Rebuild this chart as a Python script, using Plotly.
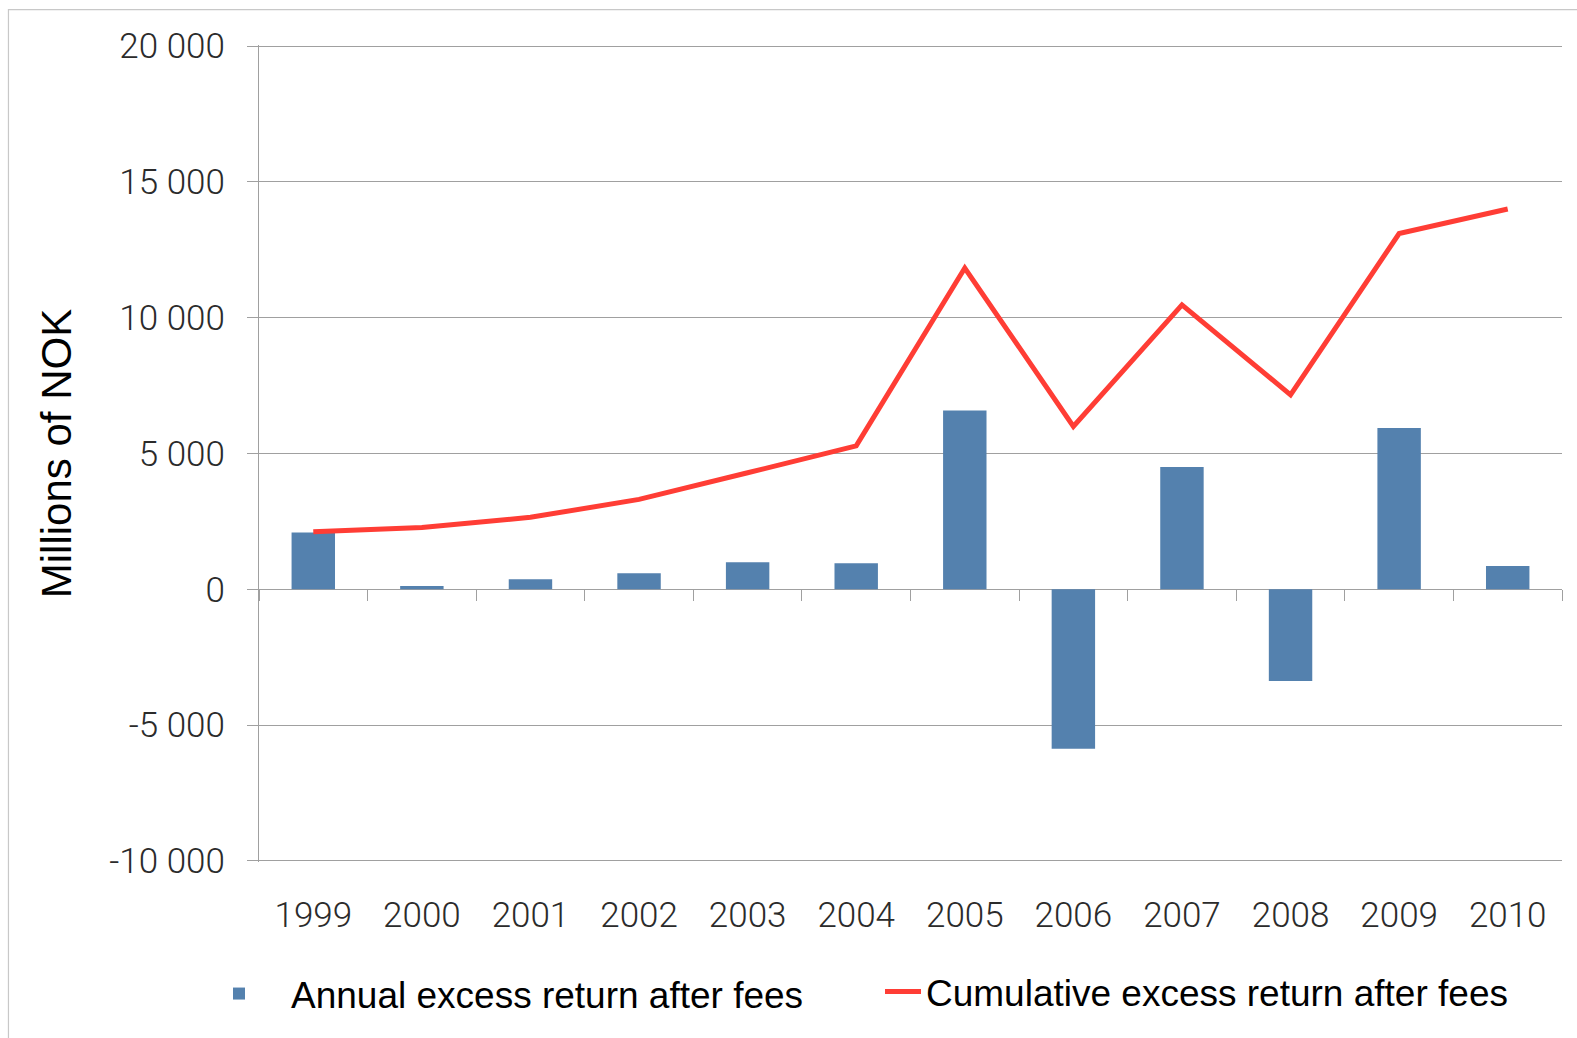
import plotly.graph_objects as go

# ---- data ----
years = ["1999", "2000", "2001", "2002", "2003", "2004",
         "2005", "2006", "2007", "2008", "2009", "2010"]
annual = [2090, 120, 370, 590, 1000, 960, 6580, -5870, 4500, -3380, 5940, 860]
cumulative = [2120, 2280, 2650, 3310, 4290, 5280, 11830, 6000, 10470, 7160, 13100, 14000]

y_tickvals = [-10000, -5000, 0, 5000, 10000, 15000, 20000]
y_ticktext = ["-10 000", "-5 000", "0", "5 000", "10 000", "15 000", "20 000"]

# ---- styles ----
W, H = 1577, 1038
Y_LO, Y_HI, PAD_V = -10000, 20000, 40
L, R = 258.7, 14.5
T0, B0 = 46.5, 177.3                 # pixel rows of 20 000 and -10 000
px_per_unit = (H - T0 - B0) / (Y_HI - Y_LO)
T = T0 - PAD_V * px_per_unit
B = B0 - PAD_V * px_per_unit
GRID = "#a0a0a0"
BAR = "#5481ae"
RED = "#ff3d35"
tickfont = dict(family="Roboto", size=35, color="#2b2b2b", weight=300)
legfont = dict(family="Liberation Sans", size=37, color="#000000")

fig = go.Figure()
fig.add_trace(go.Bar(
    x=years, y=annual, name="Annual excess return after fees",
    marker=dict(color=BAR, line=dict(width=0)), width=0.4,
    xaxis="x", yaxis="y", legend="legend",
))
fig.add_trace(go.Scatter(
    x=years, y=cumulative, name="Cumulative excess return after fees",
    mode="lines", line=dict(color=RED, width=5),
    xaxis="x2", yaxis="y", legend="legend2",
))

plot_h = H - T - B
zero_frac = (0 - (Y_LO - PAD_V)) / ((Y_HI + PAD_V) - (Y_LO - PAD_V))
fig.update_layout(
    width=W, height=H,
    margin=dict(l=L, r=R, t=T, b=B, pad=0),
    paper_bgcolor="white", plot_bgcolor="white",
    showlegend=True,
    # axis carrying the bars: sits on the zero line, ticks between categories
    xaxis=dict(
        type="category", categoryorder="array", categoryarray=years,
        range=[-0.5, 11.5], anchor="free", position=zero_frac,
        ticks="outside", tickson="boundaries", ticklen=11, tickwidth=1.2,
        tickcolor=GRID, showticklabels=False,
        showgrid=False, zeroline=False, showline=False,
    ),
    # axis carrying the line: year labels along the bottom
    xaxis2=dict(
        type="category", categoryorder="array", categoryarray=years,
        range=[-0.5, 11.5], overlaying="x", anchor="y", side="bottom",
        ticks="", showgrid=False, zeroline=False, showline=False,
        tickfont=tickfont, ticklabelstandoff=29,
    ),
    yaxis=dict(
        range=[Y_LO - PAD_V, Y_HI + PAD_V], tickmode="array",
        tickvals=y_tickvals, ticktext=y_ticktext,
        showgrid=True, gridcolor=GRID, gridwidth=1.2,
        ticks="outside", ticklen=11, tickwidth=1.2, tickcolor=GRID,
        showline=True, linecolor=GRID, linewidth=1.2,
        zeroline=True, zerolinecolor=GRID, zerolinewidth=1.4,
        tickfont=tickfont, ticklabelstandoff=15,
        title=dict(text="Millions of NOK", standoff=24,
                   font=dict(family="Liberation Sans", size=42, color="#000000")),
    ),
    legend=dict(
        orientation="h", xref="container", yref="container",
        x=187 / W, xanchor="left", y=1 - 994 / H, yanchor="middle",
        itemwidth=94, font=legfont, bgcolor="rgba(0,0,0,0)",
    ),
    legend2=dict(
        orientation="h", xref="container", yref="container",
        x=880 / W, xanchor="left", y=1 - 992 / H, yanchor="middle",
        itemwidth=36, font=legfont, bgcolor="rgba(0,0,0,0)",
    ),
    shapes=[dict(
        type="rect", xref="paper", yref="paper", layer="below",
        x0=(8 - L) / (W - L - R), x1=1.2,
        y0=-0.5, y1=1 + (T - 10) / plot_h,
        line=dict(color="#c8c8c8", width=1.2), fillcolor="rgba(0,0,0,0)",
    )],
)

fig.write_html("out.html")
